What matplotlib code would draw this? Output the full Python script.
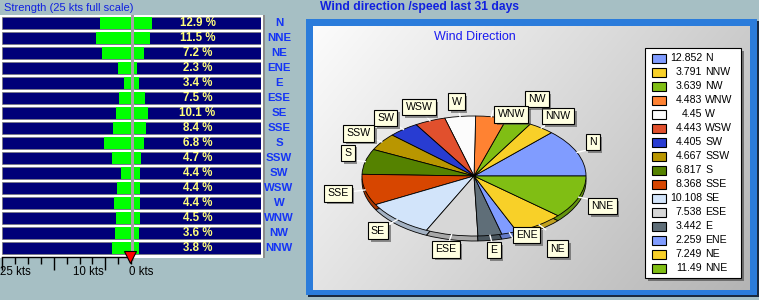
import numpy as np
import matplotlib
matplotlib.use("Agg")
import matplotlib.pyplot as plt
import matplotlib.patheffects as pe
from matplotlib.patches import Rectangle
from matplotlib.transforms import blended_transform_factory

# ---- data ---------------------------------------------------------------
directions = ["N", "NNE", "NE", "ENE", "E", "ESE", "SE", "SSE",
              "S", "SSW", "SW", "WSW", "W", "WNW", "NW", "NNW"]
mean_speed_kts = [6.1, 6.9, 5.7, 2.6, 1.5, 2.45, 3.0, 3.6,
                  5.3, 3.8, 2.05, 2.8, 3.4, 3.0, 3.2, 3.8]
frequency_pct = [12.9, 11.5, 7.2, 2.3, 3.4, 7.5, 10.1, 8.4,
                 6.8, 4.7, 4.4, 4.4, 4.4, 4.5, 3.6, 3.8]

pie_directions = ["N", "NNW", "NW", "WNW", "W", "WSW", "SW", "SSW",
                  "S", "SSE", "SE", "ESE", "E", "ENE", "NE", "NNE"]
pie_values = [12.852, 3.791, 3.639, 4.483, 4.45, 4.443, 4.405, 4.667,
              6.817, 8.368, 10.108, 7.538, 3.442, 2.259, 7.249, 11.49]
pie_labels = ["12.852", "3.791", "3.639", "4.483", "4.45", "4.443", "4.405", "4.667",
              "6.817", "8.368", "10.108", "7.538", "3.442", "2.259", "7.249", "11.49"]
pie_colors = ["#809CFF", "#F8D028", "#80BE14", "#FF8232", "#FCFCFC", "#E1502D",
              "#283CD2", "#B99600", "#558200", "#D74600", "#D2E4FA", "#D7D7D7",
              "#5F6E78", "#809CFF", "#F8D028", "#80BE14"]

scale_full_kts = 25

# ---- styling ------------------------------------------------------------
W, H = 759, 300
BG = "#A6BFC4"
NAVY = "#000078"
GREEN = "#00FF00"
YELLOW = "#FFFF7A"
LBLUE = "#1535F5"
TBLUE = "#1020E0"
FRAME = "#2B7CDB"
FONT = "Liberation Sans"
plt.rcParams["font.family"] = [FONT, "DejaVu Sans"]

fig = plt.figure(figsize=(W / 100, H / 100), dpi=100, facecolor=BG)


def px_axes(x0, y0, x1, y1, z=1):
    ax = fig.add_axes([x0 / W, 1 - y1 / H, (x1 - x0) / W, (y1 - y0) / H])
    ax.set_zorder(z)
    ax.patch.set_alpha(0)
    return ax


# background canvas in pixel units
bg = px_axes(0, 0, W, H, z=0)
bg.set_xlim(0, W)
bg.set_ylim(H, 0)
bg.axis("off")

# left strength panel
bg.add_patch(Rectangle((0, 15), 264, 243, facecolor="white", edgecolor="none"))
bg.add_patch(Rectangle((263, 15), 1.5, 243, facecolor="#8C8C8C", edgecolor="none"))
bg.text(4, 8, "Strength (25 kts full scale)", color=TBLUE, fontsize=8,
        ha="left", va="center")

# right panel: frame, shadow and gradient
bg.add_patch(Rectangle((308, 21), 451, 276, facecolor="#1A2A40", edgecolor="none", zorder=1))
bg.add_patch(Rectangle((306, 19), 451, 276, facecolor=FRAME, edgecolor="none", zorder=1.5))
gy, gx = np.mgrid[0:1:200j, 0:1:300j]
grad = 252 - 48 * gx - 24 * gy
grad = np.dstack([grad, grad, grad]) / 255.0
bg.imshow(grad, extent=(313, 750, 290, 26), aspect="auto", interpolation="bilinear",
          zorder=2)
bg.set_xlim(0, W)
bg.set_ylim(H, 0)
bg.text(320, 7, "Wind direction /speed last 31 days", color=TBLUE, fontsize=8.7,
        fontweight="bold", ha="left", va="center")
bg.text(475, 37, "Wind Direction", color="#1A1AF0", fontsize=9, ha="center",
        va="center", zorder=3)

# ---- strength bars ----------------------------------------------------------
rows = np.arange(len(directions))
ylim = (len(directions) - 0.42, -0.5)
bar_h = 0.8

ax_pct = px_axes(134, 15.3, 261, 257, z=2)
ax_pct.set_xlim(0, 127 / 1.4)
ax_pct.set_ylim(*ylim)
ax_pct.barh(rows, [ax_pct.get_xlim()[1]] * len(rows), height=bar_h, color=NAVY,
            edgecolor="#7A7A7A", linewidth=0.5)
ax_pct.barh(rows, frequency_pct, height=bar_h, color=GREEN, edgecolor="none")
tr_pct = blended_transform_factory(ax_pct.transAxes, ax_pct.transData)
for r, p, d in zip(rows, frequency_pct, directions):
    ax_pct.text(0.5, r, f"{p:.1f} %", transform=tr_pct, color=YELLOW, fontsize=8.3,
                fontweight="bold", ha="center", va="center")
    ax_pct.text(1.142, r, d, transform=tr_pct, color=LBLUE, fontsize=8.2,
                fontweight="bold", ha="center", va="center", clip_on=False)
ax_pct.add_patch(Rectangle((131.4, 15), 2.6, 246, transform=bg.transData,
                           facecolor="#A3A3A3", edgecolor="none", clip_on=False, zorder=5))
ax_pct.axis("off")

ax_spd = px_axes(1.7, 15.3, 131.4, 257, z=3)
ax_spd.set_xlim(scale_full_kts, 0)
ax_spd.set_ylim(*ylim)
ax_spd.barh(rows, [scale_full_kts] * len(rows), height=bar_h, color=NAVY,
            edgecolor="#7A7A7A", linewidth=0.5)
ax_spd.barh(rows, mean_speed_kts, height=bar_h, color=GREEN, edgecolor="none")
for s in ["top", "left", "right"]:
    ax_spd.spines[s].set_visible(False)
ax_spd.spines["bottom"].set_linewidth(1.0)
ax_spd.set_yticks([])
ax_spd.set_xticks([5, 15, 25])
ax_spd.set_xticks(np.arange(0, 25.1, 2.5), minor=True)
ax_spd.tick_params(axis="x", which="major", direction="out", length=9, width=1,
                   labelbottom=False)
ax_spd.tick_params(axis="x", which="minor", direction="out", length=5, width=1)
tr_spd = blended_transform_factory(ax_spd.transData, ax_spd.transAxes)
for kts, dx, ha in [(25, -1, "left"), (10, -5, "left"), (0, -2, "left")]:
    ax_spd.annotate(f"{kts} kts", xy=(kts, 0), xycoords=tr_spd,
                    xytext=(dx, -10.5), textcoords="offset points",
                    fontsize=8.3, ha=ha, va="center", annotation_clip=False)
ax_spd.plot([0.3], [-0.002], marker="v", markersize=8.5, color="#FF0000",
            markeredgecolor="black", markeredgewidth=0.8, transform=tr_spd,
            clip_on=False, zorder=10)

# ---- pie ----------------------------------------------------------------------
cx, cy, rx, ry = 474, 176, 112, 60
pw, ph = 300, 190
ax_pie = px_axes(cx - pw / 2, cy - ph / 2, cx + pw / 2, cy + ph / 2, z=2)
depth = 5 / ry
side_colors = [tuple(0.78 * c for c in matplotlib.colors.to_rgb(col)) for col in pie_colors]
ax_pie.pie(pie_values, colors=side_colors, startangle=0, counterclock=True,
           center=(0, -depth), wedgeprops=dict(edgecolor="black", linewidth=0.6))
wedges, _ = ax_pie.pie(pie_values, colors=pie_colors, startangle=0, counterclock=True,
                       wedgeprops=dict(edgecolor="black", linewidth=0.6))
ax_pie.set_aspect("auto")
ax_pie.set_xlim(-pw / 2 / rx, pw / 2 / rx)
ax_pie.set_ylim(-ph / 2 / ry, ph / 2 / ry)
ax_pie.axis("off")

label_radius = {"N": 1.2, "NW": 1.4, "WNW": 1.08, "ENE": 1.09, "NE": 1.42, "S": 1.19}
label_turn = {"WNW": -9, "ENE": 7, "NE": -4, "N": 5, "S": -5, "NNE": -3}
for w, name in zip(wedges, pie_directions):
    mid = 0.5 * (w.theta1 + w.theta2)
    a = np.deg2rad(mid)
    ax_pie.plot([np.cos(a), 1.1 * np.cos(a)], [np.sin(a), 1.1 * np.sin(a)],
                color="white", lw=1.0, zorder=3, clip_on=False)
    r = label_radius.get(name, 1.25)
    b = np.deg2rad(mid + label_turn.get(name, 0))
    t = ax_pie.text(r * np.cos(b), r * np.sin(b), name, fontsize=7.6, ha="center",
                    va="center", zorder=6, clip_on=False,
                    bbox=dict(boxstyle="square,pad=0.3", facecolor="#FFFFE1",
                              edgecolor="black", linewidth=0.8))
    t.get_bbox_patch().set_path_effects([
        pe.SimplePatchShadow(offset=(2, -2), shadow_rgbFace="#404040", alpha=0.55),
        pe.Normal()])

# ---- legend -------------------------------------------------------------------
lx0, ly0, lw_, lh_ = 645, 48, 96, 230
bg.add_patch(Rectangle((lx0 + 3, ly0 + 3), lw_, lh_, facecolor="#505050",
                       edgecolor="none", alpha=0.7, zorder=3))
bg.add_patch(Rectangle((lx0, ly0), lw_, lh_, facecolor="white", edgecolor="black",
                       linewidth=0.8, zorder=4))
for i, (name, lab, col) in enumerate(zip(pie_directions, pie_labels, pie_colors)):
    yc = 58.3 + i * 14.0
    bg.add_patch(Rectangle((651.5, yc - 4.5), 14.5, 9, facecolor=col,
                           edgecolor="black", linewidth=0.8, zorder=5))
    bg.text(702, yc, lab, fontsize=7.6, ha="right", va="center", zorder=6)
    bg.text(705, yc, name, fontsize=7.6, ha="left", va="center", zorder=6)

fig.savefig("out.png", dpi=100, facecolor=BG)
